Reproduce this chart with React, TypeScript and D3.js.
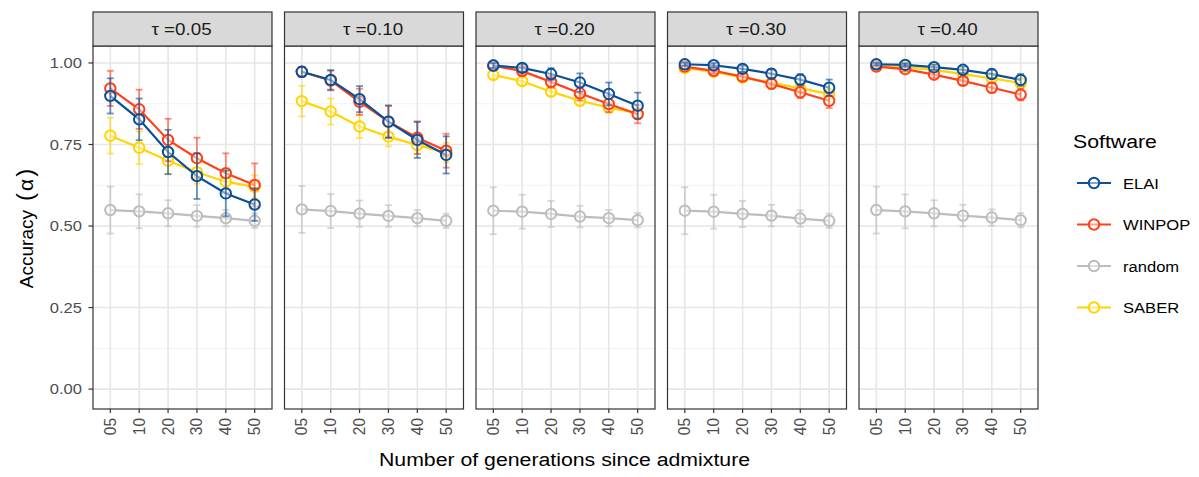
import React from "react";
import * as d3 from "d3";

const generations = ["05", "10", "20", "30", "40", "50"];
const taus = ["0.05", "0.10", "0.20", "0.30", "0.40"];
const software = ["ELAI", "WINPOP", "random", "SABER"];
const colors = ["#0b4f96", "#ff4019", "#bdbdbd", "#ffd400"];
const yTicks = [0, 0.25, 0.5, 0.75, 1.0];

const elaiMean = [
  [0.899, 0.827, 0.727, 0.653, 0.6, 0.566],
  [0.973, 0.948, 0.889, 0.82, 0.764, 0.718],
  [0.992, 0.985, 0.966, 0.94, 0.905, 0.869],
  [0.996, 0.993, 0.982, 0.967, 0.949, 0.924],
  [0.996, 0.994, 0.987, 0.979, 0.966, 0.948],
];
const elaiErr = [
  [0.054, 0.064, 0.068, 0.07, 0.07, 0.05],
  [0.015, 0.03, 0.04, 0.05, 0.055, 0.057],
  [0.008, 0.012, 0.018, 0.028, 0.035, 0.04],
  [0.005, 0.007, 0.01, 0.013, 0.017, 0.025],
  [0.004, 0.005, 0.008, 0.01, 0.013, 0.018],
];
const winpopMean = [
  [0.922, 0.858, 0.764, 0.708, 0.662, 0.626],
  [0.973, 0.946, 0.881, 0.82, 0.771, 0.731],
  [0.992, 0.975, 0.942, 0.907, 0.874, 0.843],
  [0.989, 0.976, 0.958, 0.936, 0.91, 0.884],
  [0.989, 0.981, 0.964, 0.945, 0.924, 0.903],
];
const winpopErr = [
  [0.054, 0.06, 0.065, 0.063, 0.061, 0.066],
  [0.015, 0.03, 0.04, 0.048, 0.05, 0.052],
  [0.006, 0.012, 0.018, 0.022, 0.025, 0.028],
  [0.006, 0.008, 0.012, 0.015, 0.018, 0.022],
  [0.005, 0.007, 0.01, 0.012, 0.015, 0.018],
];
const randomMean = [
  [0.549, 0.545, 0.539, 0.531, 0.524, 0.516],
  [0.551, 0.546, 0.538, 0.531, 0.524, 0.516],
  [0.547, 0.544, 0.537, 0.529, 0.524, 0.518],
  [0.547, 0.544, 0.537, 0.532, 0.523, 0.516],
  [0.549, 0.545, 0.539, 0.532, 0.526, 0.518],
];
const randomErr = [
  [0.072, 0.052, 0.04, 0.033, 0.025, 0.022],
  [0.072, 0.052, 0.04, 0.033, 0.025, 0.022],
  [0.072, 0.052, 0.04, 0.033, 0.025, 0.022],
  [0.072, 0.052, 0.04, 0.033, 0.025, 0.022],
  [0.072, 0.052, 0.04, 0.033, 0.025, 0.022],
];
const saberMean = [
  [0.777, 0.74, 0.7, 0.665, 0.636, 0.62],
  [0.883, 0.851, 0.805, 0.774, 0.748, 0.725],
  [0.963, 0.944, 0.912, 0.884, 0.863, 0.846],
  [0.984, 0.973, 0.955, 0.94, 0.922, 0.905],
  [0.991, 0.987, 0.979, 0.966, 0.953, 0.938],
];
const saberErr = [
  [0.055, 0.05, 0.04, 0.035, 0.035, 0.035],
  [0.047, 0.04, 0.035, 0.03, 0.028, 0.03],
  [0.012, 0.012, 0.013, 0.014, 0.014, 0.015],
  [0.006, 0.008, 0.008, 0.01, 0.01, 0.012],
  [0.004, 0.005, 0.006, 0.008, 0.009, 0.01],
];

const means = [elaiMean, winpopMean, randomMean, saberMean];
const errs = [elaiErr, winpopErr, randomErr, saberErr];
const drawOrder = [2, 3, 1, 0];

const W = 1199;
const H = 477;
const FONT = "'Liberation Sans', Arial, Helvetica, sans-serif";
const SX = 1.12; // horizontal text stretch seen in the reference

const panelLeft0 = 93;
const panelW = 179;
const panelStep = 191.5;
const stripTop = 12;
const panelTop = 46;
const panelBottom = 409;

function SText(props: { x: number; y: number; anchor?: string; size: number; fill?: string; children: React.ReactNode }) {
  const { x, y, anchor = "start", size, fill = "#000", children } = props;
  return (
    <g transform={`translate(${x},${y}) scale(${SX},1)`}>
      <text x={0} y={0} textAnchor={anchor as any} fontSize={size} fill={fill}>
        {children}
      </text>
    </g>
  );
}

export default function App() {
  const y = d3.scaleLinear().domain([-0.061, 1.052]).range([panelBottom, panelTop]);
  const minorTicks = [0.125, 0.375, 0.625, 0.875];

  return (
    <svg width={W} height={H} style={{ position: "absolute", left: 0, top: 0, background: "#fff" }} fontFamily={FONT}>
      <rect x={0} y={0} width={W} height={H} fill="#fff" />
      {taus.map((tau, pi) => {
        const left = panelLeft0 + pi * panelStep;
        const x = d3
          .scalePoint<string>()
          .domain(generations)
          .range([left, left + panelW])
          .padding(0.6);
        const line = d3
          .line<number>()
          .x((_, i) => x(generations[i]) as number)
          .y((d) => y(d));
        return (
          <g key={tau}>
            <rect x={left} y={panelTop} width={panelW} height={panelBottom - panelTop} fill="#fff" />
            {minorTicks.map((t) => (
              <line key={"mn" + t} x1={left} x2={left + panelW} y1={y(t)} y2={y(t)} stroke="#f2f2f2" strokeWidth={1} />
            ))}
            {yTicks.map((t) => (
              <line key={"mj" + t} x1={left} x2={left + panelW} y1={y(t)} y2={y(t)} stroke="#e6e6e6" strokeWidth={1.6} />
            ))}
            {generations.map((g) => (
              <line key={"vg" + g} x1={x(g)} x2={x(g)} y1={panelTop} y2={panelBottom} stroke="#e6e6e6" strokeWidth={1.6} />
            ))}
            {drawOrder.map((si) => {
              const m = means[si][pi];
              const e = errs[si][pi];
              const c = colors[si];
              return (
                <g key={software[si]}>
                  <path d={line(m) || ""} fill="none" stroke={c} strokeWidth={2.2} />
                  {m.map((v, i) => (
                    <circle key={"p" + i} cx={x(generations[i])} cy={y(v)} r={5.2} fill="#fff" fillOpacity={0.5} stroke={c} strokeWidth={2} />
                  ))}
                  {m.map((v, i) => {
                    const cx = x(generations[i]) as number;
                    const y1 = y(v + e[i]);
                    const y2 = y(v - e[i]);
                    return (
                      <g key={"e" + i} stroke={c} strokeOpacity={0.6} strokeWidth={1.8}>
                        <line x1={cx} x2={cx} y1={y1} y2={y2} />
                        <line x1={cx - 3.5} x2={cx + 3.5} y1={y1} y2={y1} />
                        <line x1={cx - 3.5} x2={cx + 3.5} y1={y2} y2={y2} />
                      </g>
                    );
                  })}
                </g>
              );
            })}
            <rect x={left} y={panelTop} width={panelW} height={panelBottom - panelTop} fill="none" stroke="#333" strokeWidth={1.2} />
            <rect x={left} y={stripTop} width={panelW} height={panelTop - stripTop} fill="#d9d9d9" stroke="#333" strokeWidth={1.2} />
            <SText x={left + panelW / 2 - 1} y={(stripTop + panelTop) / 2 + 6} anchor="middle" size={16.8} fill="#1a1a1a">
              {"τ =" + tau}
            </SText>
            {generations.map((g) => (
              <g key={"xt" + g}>
                <line x1={x(g)} x2={x(g)} y1={panelBottom} y2={panelBottom + 4} stroke="#333" strokeWidth={1.2} />
                <g transform={`translate(${(x(g) as number) + 5.5},${panelBottom + 9}) rotate(-90) scale(1,${SX})`}>
                  <text x={0} y={0} textAnchor="end" fontSize={15.5} fill="#4d4d4d">
                    {g}
                  </text>
                </g>
              </g>
            ))}
          </g>
        );
      })}
      {yTicks.map((t) => (
        <g key={"yt" + t}>
          <line x1={panelLeft0 - 4.5} x2={panelLeft0} y1={y(t)} y2={y(t)} stroke="#333" strokeWidth={1.2} />
          <SText x={panelLeft0 - 11} y={y(t) + 5.3} anchor="end" size={14.8} fill="#4d4d4d">
            {t.toFixed(2)}
          </SText>
        </g>
      ))}
      <text transform={`translate(33,${(panelTop + panelBottom) / 2 + 1}) rotate(-90)`} textAnchor="middle" fontSize={19} fill="#000">
        <tspan>Accuracy</tspan>
        <tspan dx={9} fontSize={24}>(</tspan>
        <tspan dx={2} fontSize={21}>α</tspan>
        <tspan dx={2} fontSize={24}>)</tspan>
      </text>
      <SText x={564.5} y={466} anchor="middle" size={19}>
        Number of generations since admixture
      </SText>
      <SText x={1073} y={148} size={19}>
        Software
      </SText>
      {software.map((s, i) => {
        const cy = 183 + i * 41.5;
        return (
          <g key={"lg" + s}>
            <line x1={1077} x2={1111} y1={cy} y2={cy} stroke={colors[i]} strokeWidth={2.2} />
            <circle cx={1094} cy={cy} r={5.2} fill="#fff" fillOpacity={0.5} stroke={colors[i]} strokeWidth={2} />
            <SText x={1123} y={cy + 5.5} size={14.8}>
              {s}
            </SText>
          </g>
        );
      })}
    </svg>
  );
}
